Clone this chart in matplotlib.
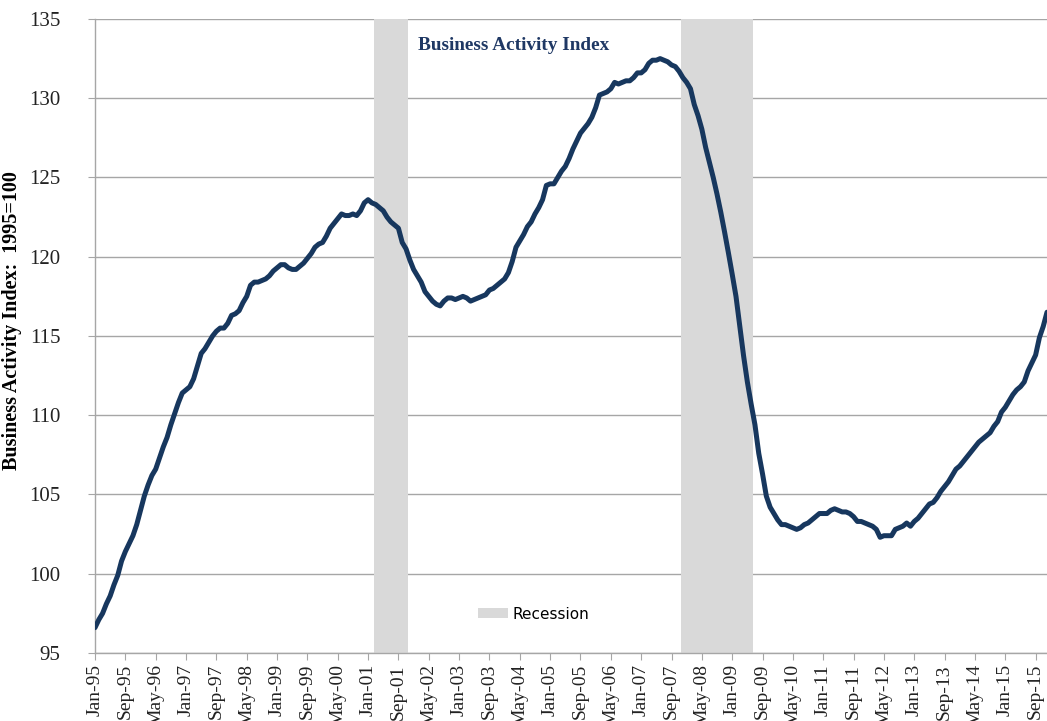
import numpy as np
import matplotlib
matplotlib.use('Agg')
import matplotlib.pyplot as plt
from matplotlib.patches import Patch

# monthly index values, Jan-95 .. Dec-15
y1995 = [96.6, 97.1, 97.5, 98.1, 98.6, 99.3, 99.9, 100.8, 101.4, 101.9, 102.4, 103.1]
y1996 = [104.0, 104.9, 105.6, 106.2, 106.6, 107.3, 108.0, 108.6, 109.4, 110.1, 110.8, 111.4]
y1997 = [111.6, 111.8, 112.3, 113.1, 113.9, 114.2, 114.6, 115.0, 115.3, 115.5, 115.5, 115.8]
y1998 = [116.3, 116.4, 116.6, 117.1, 117.5, 118.2, 118.4, 118.4, 118.5, 118.6, 118.8, 119.1]
y1999 = [119.3, 119.5, 119.5, 119.3, 119.2, 119.2, 119.4, 119.6, 119.9, 120.2, 120.6, 120.8]
y2000 = [120.9, 121.3, 121.8, 122.1, 122.4, 122.7, 122.6, 122.6, 122.7, 122.6, 122.9, 123.4]
y2001 = [123.6, 123.4, 123.3, 123.1, 122.9, 122.5, 122.2, 122.0, 121.8, 120.9, 120.5, 119.8]
y2002 = [119.2, 118.8, 118.4, 117.8, 117.5, 117.2, 117.0, 116.9, 117.2, 117.4, 117.4, 117.3]
y2003 = [117.4, 117.5, 117.4, 117.2, 117.3, 117.4, 117.5, 117.6, 117.9, 118.0, 118.2, 118.4]
y2004 = [118.6, 119.0, 119.7, 120.6, 121.0, 121.4, 121.9, 122.2, 122.7, 123.1, 123.6, 124.5]
y2005 = [124.6, 124.6, 125.0, 125.4, 125.7, 126.2, 126.8, 127.3, 127.8, 128.1, 128.4, 128.8]
y2006 = [129.4, 130.2, 130.3, 130.4, 130.6, 131.0, 130.9, 131.0, 131.1, 131.1, 131.3, 131.6]
y2007 = [131.6, 131.8, 132.2, 132.4, 132.4, 132.5, 132.4, 132.3, 132.1, 132.0, 131.7, 131.3]
y2008 = [131.0, 130.6, 129.6, 128.9, 128.05, 126.9, 125.95, 125.0, 123.95, 122.8, 121.55, 120.25]
y2009 = [118.9, 117.5, 115.6, 113.75, 112.1, 110.7, 109.4, 107.6, 106.3, 104.9, 104.2, 103.8]
y2010 = [103.4, 103.1, 103.1, 103.0, 102.9, 102.8, 102.9, 103.1, 103.2, 103.4, 103.6, 103.8]
y2011 = [103.8, 103.8, 104.0, 104.1, 104.0, 103.9, 103.9, 103.8, 103.6, 103.3, 103.3, 103.2]
y2012 = [103.1, 103.0, 102.8, 102.3, 102.4, 102.4, 102.4, 102.8, 102.9, 103.0, 103.2, 103.0]
y2013 = [103.3, 103.5, 103.8, 104.1, 104.4, 104.5, 104.8, 105.2, 105.5, 105.8, 106.2, 106.6]
y2014 = [106.8, 107.1, 107.4, 107.7, 108.0, 108.3, 108.5, 108.7, 108.9, 109.3, 109.6, 110.2]
y2015 = [110.5, 110.9, 111.3, 111.6, 111.8, 112.1, 112.8, 113.3, 113.8, 114.9, 115.6, 116.5]

index_values = (y1995 + y1996 + y1997 + y1998 + y1999 + y2000 + y2001 + y2002
                + y2003 + y2004 + y2005 + y2006 + y2007 + y2008 + y2009 + y2010
                + y2011 + y2012 + y2013 + y2014 + y2015)

months = ['Jan', 'Feb', 'Mar', 'Apr', 'May', 'Jun', 'Jul', 'Aug', 'Sep', 'Oct', 'Nov', 'Dec']
month_labels = ['%s-%02d' % (months[i % 12], (95 + i // 12) % 100) for i in range(len(index_values))]

# recessions (first and last month, as labels)
recessions = [('Mar-01', 'Nov-01'), ('Dec-07', 'Jun-09')]

navy = '#17375E'
grey = '#D9D9D9'
axis_grey = '#A6A6A6'

fig = plt.figure(figsize=(10.47, 7.21), dpi=100)
ax = fig.add_axes([95 / 1047, 68 / 721, 952 / 1047, 634 / 721])

x = np.arange(len(index_values))

for start, end in recessions:
    ax.axvspan(month_labels.index(start) - 0.5, month_labels.index(end) + 0.5,
               color=grey, lw=0, zorder=1)

ax.plot(x, index_values, color=navy, lw=3.6, solid_joinstyle='round',
        solid_capstyle='round', zorder=3)

ax.set_xlim(0, len(index_values) - 1)
ax.set_ylim(95, 135)
ax.set_yticks(np.arange(95, 136, 5))
ax.set_xticks(x[::8])
ax.set_xticklabels(month_labels[::8], rotation=90, family='Liberation Serif', fontsize=14)
for lab in ax.get_yticklabels():
    lab.set_family('Liberation Serif')
    lab.set_fontsize(15)

ax.yaxis.grid(True, color=axis_grey, lw=1.0, zorder=0)
ax.set_axisbelow(True)
for s in ['top', 'right']:
    ax.spines[s].set_visible(False)
for s in ['left', 'bottom']:
    ax.spines[s].set_color(axis_grey)
    ax.spines[s].set_linewidth(1.0)
ax.tick_params(axis='y', direction='out', length=5, color=axis_grey, pad=20, labelcolor='#222222')
ax.tick_params(axis='x', direction='out', length=5, color=axis_grey, pad=3, labelcolor='#222222')

ax.set_ylabel('Business Activity Index:  1995=100', family='Liberation Serif',
              fontweight='bold', fontsize=14.5)
ax.yaxis.set_label_coords(-0.077, 0.524)

fig.text(418 / 1047, 1 - 46 / 721, 'Business Activity Index', family='Liberation Serif',
         fontweight='bold', fontsize=13.9, color='#1F3864', ha='left', va='center')

leg = ax.legend(handles=[Patch(facecolor=grey, edgecolor='none', label='Recession')],
                loc='center', bbox_to_anchor=(0.4606, 0.0615),
                bbox_transform=ax.transAxes, frameon=False, fontsize=11,
                handlelength=1.96, handleheight=0.59, handletextpad=0.26)
for t in leg.get_texts():
    t.set_family('DejaVu Sans')

fig.savefig('out.png', dpi=100)
